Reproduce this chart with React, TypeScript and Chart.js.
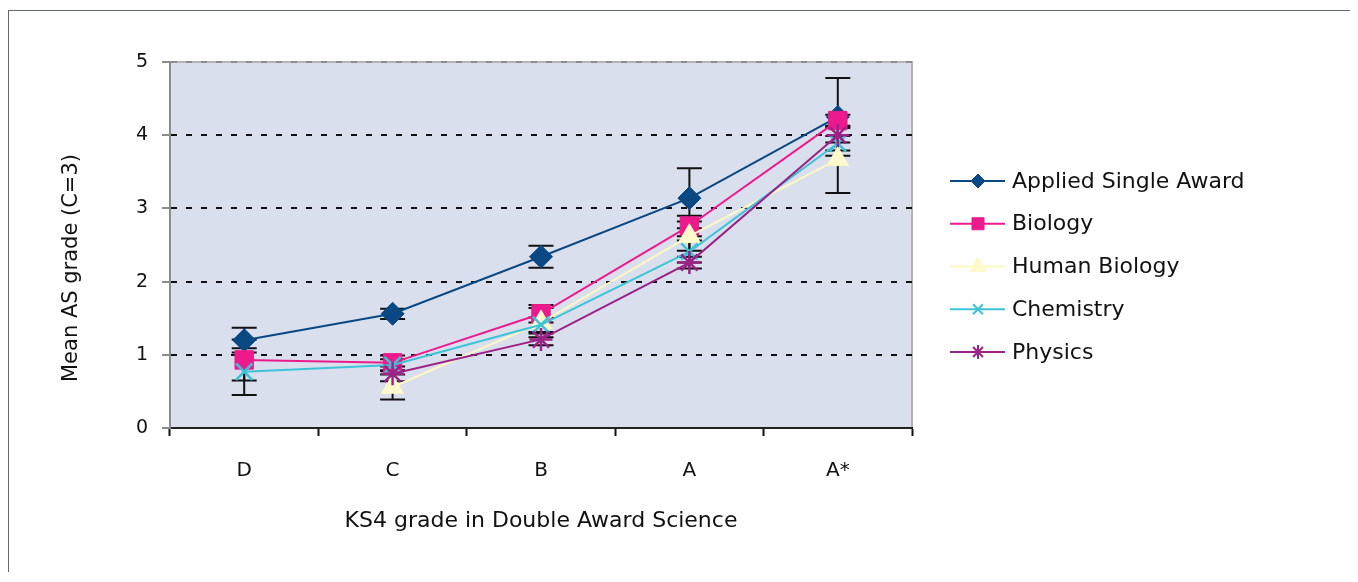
import React, { useEffect, useRef } from 'react';
import { Chart, registerables } from 'chart.js';
import { drawPoint } from 'chart.js/helpers';

Chart.register(...registerables);

// ---- data ----
const categories = ['D', 'C', 'B', 'A', 'A*'];
const appliedSingleAward = [1.2, 1.56, 2.34, 3.14, 4.25];
const biology = [0.93, 0.89, 1.56, 2.76, 4.2];
const humanBiology = [null, 0.56, 1.44, 2.62, 3.67];
const chemistry = [0.77, 0.86, 1.41, 2.41, 3.89];
const physics = [null, 0.74, 1.21, 2.26, 4.0];

const appliedErr = [0.17, 0.07, 0.15, 0.41, 0.53];
const biologyErr = [0.28, 0.1, 0.12, 0.14, 0.08];
const humanBiologyErr = [null, 0.17, 0.2, 0.2, 0.46];
const chemistryErr = [0.32, 0.08, 0.1, 0.15, 0.1];
const physicsErr = [null, 0.1, 0.08, 0.08, 0.1];

const seriesNames = ['Applied Single Award', 'Biology', 'Human Biology', 'Chemistry', 'Physics'];
const yTitle = 'Mean AS grade (C=3)';
const xTitle = 'KS4 grade in Double Award Science';
const yMin = 0;
const yMax = 5;
const yStep = 1;

const FONT = '"DejaVu Sans", sans-serif';

const styles = [
  { color: '#0A4884', fill: '#0A4884', pointStyle: 'rectRot', radius: 11.5, bw: 1, lRadius: 7, lBw: 1 },
  { color: '#EC1A8C', fill: '#EC1A8C', pointStyle: 'rect', radius: 13, bw: 1, lRadius: 8.5, lBw: 1 },
  { color: '#FFF8C4', fill: '#FFFACD', pointStyle: 'triangle', radius: 12.5, bw: 1, lRadius: 9.5, lBw: 1 },
  { color: '#3DC3D8', fill: '#3DC3D8', pointStyle: 'crossRot', radius: 11.5, bw: 2.5, lRadius: 7, lBw: 2 },
  { color: '#9B2286', fill: '#9B2286', pointStyle: 'star', radius: 11.5, bw: 2.5, lRadius: 7, lBw: 2 },
];

const seriesValues = [appliedSingleAward, biology, humanBiology, chemistry, physics];
const seriesErrors = [appliedErr, biologyErr, humanBiologyErr, chemistryErr, physicsErr];

const bgPlugin = {
  id: 'plotBg',
  beforeDraw(chart: any) {
    const { ctx, chartArea: a } = chart;
    ctx.save();
    ctx.fillStyle = '#DADFED';
    ctx.fillRect(a.left, a.top, a.right - a.left, a.bottom - a.top);
    ctx.strokeStyle = '#B4B4B4';
    ctx.lineWidth = 2;
    ctx.beginPath();
    ctx.moveTo(a.left, a.top);
    ctx.lineTo(a.right, a.top);
    ctx.lineTo(a.right, a.bottom);
    ctx.stroke();
    ctx.restore();
  },
};

const errorBarPlugin = {
  id: 'errorBars',
  beforeDatasetsDraw(chart: any) {
    const { ctx } = chart;
    const yScale = chart.scales.y;
    ctx.save();
    ctx.strokeStyle = '#111';
    ctx.lineWidth = 2;
    seriesErrors.forEach((errs, i) => {
      const meta = chart.getDatasetMeta(i);
      errs.forEach((e, j) => {
        const v = seriesValues[i][j];
        if (e == null || v == null) return;
        const pt = meta.data[j];
        const x = pt.x;
        const yt = yScale.getPixelForValue(v + e);
        const yb = yScale.getPixelForValue(v - e);
        ctx.beginPath();
        ctx.moveTo(x, yt);
        ctx.lineTo(x, yb);
        ctx.moveTo(x - 12.5, yt);
        ctx.lineTo(x + 12.5, yt);
        ctx.moveTo(x - 12.5, yb);
        ctx.lineTo(x + 12.5, yb);
        ctx.stroke();
      });
    });
    ctx.restore();
  },
};

const yTitlePlugin = {
  id: 'yTitle',
  afterDraw(chart: any) {
    const { ctx, chartArea: a } = chart;
    ctx.save();
    ctx.translate(a.left - 98, a.top + 206);
    ctx.rotate(-Math.PI / 2);
    ctx.fillStyle = '#111';
    ctx.font = `21px ${FONT}`;
    ctx.textAlign = 'center';
    ctx.textBaseline = 'middle';
    ctx.fillText(yTitle, 0, 0);
    ctx.restore();
  },
};

const legendPlugin = {
  id: 'customLegend',
  afterDraw(chart: any) {
    const { ctx, chartArea: a } = chart;
    const lx = a.right + 38;
    const y0 = a.top + 119;
    const gap = 42.75;
    ctx.save();
    seriesNames.forEach((name, i) => {
      const s = styles[i];
      const y = y0 + i * gap;
      ctx.strokeStyle = s.color;
      ctx.lineWidth = 2;
      ctx.beginPath();
      ctx.moveTo(lx, y);
      ctx.lineTo(lx + 55, y);
      ctx.stroke();
      ctx.fillStyle = s.fill;
      ctx.strokeStyle = s.color;
      ctx.lineWidth = s.lBw;
      drawPoint(ctx, { pointStyle: s.pointStyle, radius: s.lRadius, borderWidth: s.lBw, rotation: 0 } as any, lx + 28, y);
      ctx.fillStyle = '#111';
      ctx.font = `22px ${FONT}`;
      ctx.textAlign = 'left';
      ctx.textBaseline = 'middle';
      ctx.fillText(name, lx + 62, y + 1);
    });
    ctx.restore();
  },
};

export default function App() {
  const ref = useRef<HTMLCanvasElement>(null);
  useEffect(() => {
    const datasets = seriesNames.map((name, i) => ({
      label: name,
      data: seriesValues[i],
      borderColor: styles[i].color,
      backgroundColor: styles[i].fill,
      borderWidth: 2,
      pointStyle: styles[i].pointStyle,
      pointRadius: styles[i].radius,
      pointBorderWidth: styles[i].bw,
      pointBorderColor: styles[i].color,
      pointBackgroundColor: styles[i].fill,
      tension: 0,
      spanGaps: false,
      order: 5 - i,
    }));
    const chart = new Chart(ref.current!, {
      type: 'line',
      data: { labels: categories, datasets: datasets as any },
      options: {
        responsive: false,
        animation: false,
        layout: { padding: { left: 51, top: 51, right: 438, bottom: 40 } },
        plugins: { legend: { display: false }, tooltip: { enabled: false } },
        scales: {
          x: {
            type: 'category',
            offset: true,
            afterFit: (s: any) => { s.height = 106; },
            grid: {
              offset: true,
              drawOnChartArea: false,
              drawTicks: true,
              tickLength: 8,
              tickColor: '#111',
              tickWidth: 2,
            },
            border: { display: true, color: '#222', width: 2 },
            ticks: { color: '#111', font: { family: FONT, size: 20 }, padding: 23 },
            title: {
              display: true,
              text: xTitle,
              color: '#111',
              font: { family: FONT, size: 22 },
              padding: { top: 0, bottom: 0 },
            },
          },
          y: {
            min: yMin,
            max: yMax,
            afterFit: (s: any) => { s.width = 110; },
            ticks: { stepSize: yStep, color: '#111', font: { family: FONT, size: 19 }, padding: 14 },
            grid: {
              color: (c: any) => (c.tick && c.tick.value === yMax ? '#8C8C8C' : c.tick && c.tick.value === yMin ? 'rgba(0,0,0,0)' : '#111'),
              lineWidth: 2,
              drawTicks: true,
              tickLength: 8,
              tickColor: '#8C8C8C',
              tickWidth: 2,
            },
            border: { display: true, color: '#8C8C8C', width: 2, dash: [6, 9] },
            title: { display: false },
          },
        },
      },
      plugins: [bgPlugin, errorBarPlugin, yTitlePlugin, legendPlugin],
    });
    return () => chart.destroy();
  }, []);
  return (
    <div
      style={{
        position: 'relative',
        top: 2,
        width: 1342,
        height: 564,
        boxSizing: 'border-box',
        borderLeft: '1px solid #646A73',
        borderTop: '1px solid #646A73',
      }}
    >
      <canvas ref={ref} width={1341} height={563} style={{ display: 'block' }} />
    </div>
  );
}
